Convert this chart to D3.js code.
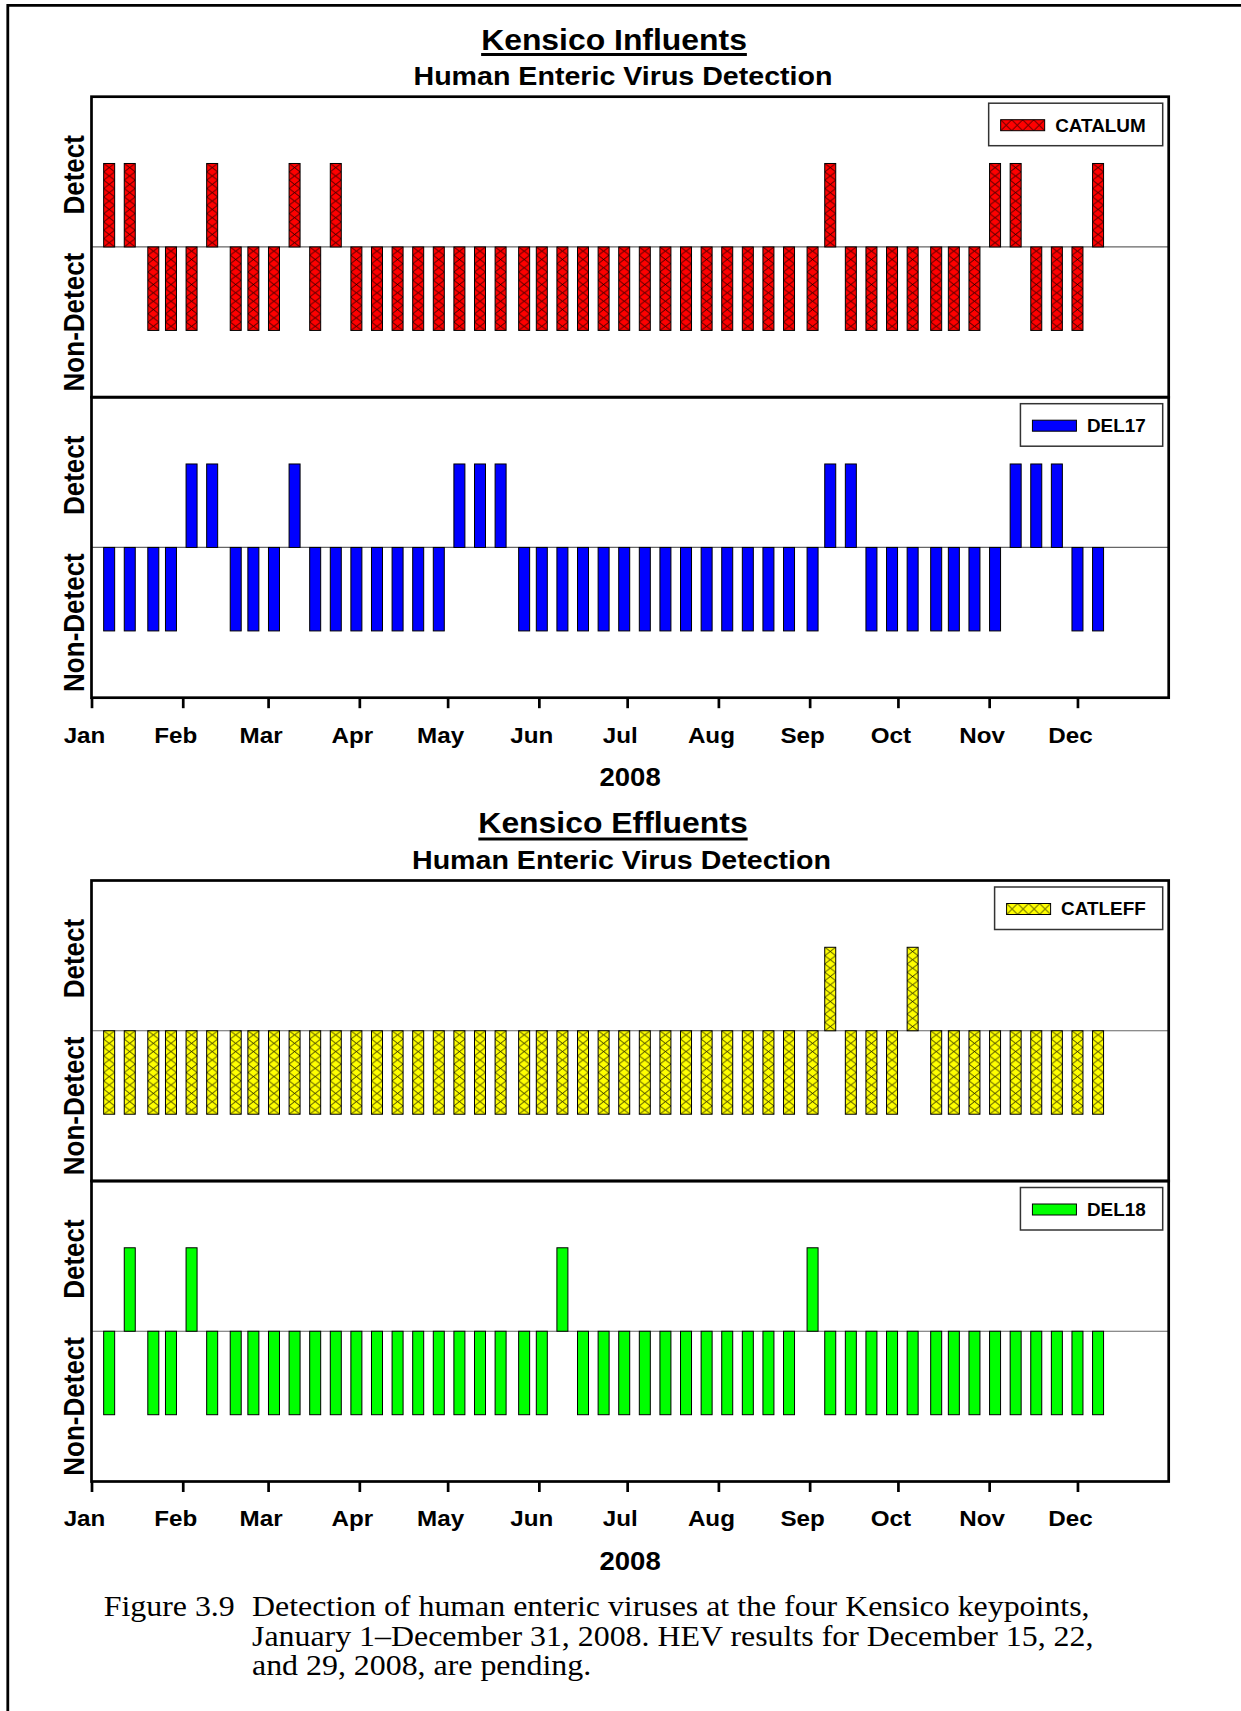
<!DOCTYPE html>
<html>
<head>
<meta charset="utf-8">
<script src="https://cdn.jsdelivr.net/npm/d3@7"></script>
<style>
  body { margin: 0; background: #fff; }
  svg { display: block; }
</style>
</head>
<body>
<script>
// Weekly sampling dates, 2008
const sampleDates = [
  "2008-01-07","2008-01-14","2008-01-22","2008-01-28",
  "2008-02-04","2008-02-11","2008-02-19","2008-02-25",
  "2008-03-03","2008-03-10","2008-03-17","2008-03-24","2008-03-31",
  "2008-04-07","2008-04-14","2008-04-21","2008-04-28",
  "2008-05-05","2008-05-12","2008-05-19","2008-05-27",
  "2008-06-02","2008-06-09","2008-06-16","2008-06-23","2008-06-30",
  "2008-07-07","2008-07-14","2008-07-21","2008-07-28",
  "2008-08-04","2008-08-11","2008-08-18","2008-08-25",
  "2008-09-02","2008-09-08","2008-09-15","2008-09-22","2008-09-29",
  "2008-10-06","2008-10-14","2008-10-20","2008-10-27",
  "2008-11-03","2008-11-10","2008-11-17","2008-11-24",
  "2008-12-01","2008-12-08"
];

// 1 = Detect, -1 = Non-Detect
const catalum = [
   1, 1,-1,-1,-1, 1,-1,-1,-1, 1,-1, 1,-1,
  -1,-1,-1,-1,-1,-1,-1,-1,-1,-1,-1,-1,
  -1,-1,-1,-1,-1,-1,-1,-1,-1,
  -1, 1,-1,-1,-1,-1,-1,-1,-1,
   1, 1,-1,-1,-1, 1
];
const del17 = [
  -1,-1,-1,-1, 1, 1,-1,-1,-1, 1,-1,-1,-1,
  -1,-1,-1,-1, 1, 1, 1,-1,-1,-1,-1,-1,
  -1,-1,-1,-1,-1,-1,-1,-1,-1,
  -1, 1, 1,-1,-1,-1,-1,-1,-1,
  -1, 1, 1, 1,-1,-1
];
const catleff = [
  -1,-1,-1,-1,-1,-1,-1,-1,-1,-1,-1,-1,-1,
  -1,-1,-1,-1,-1,-1,-1,-1,-1,-1,-1,-1,
  -1,-1,-1,-1,-1,-1,-1,-1,-1,
  -1, 1,-1,-1,-1, 1,-1,-1,-1,
  -1,-1,-1,-1,-1,-1
];
const del18 = [
  -1, 1,-1,-1, 1,-1,-1,-1,-1,-1,-1,-1,-1,
  -1,-1,-1,-1,-1,-1,-1,-1,-1, 1,-1,-1,
  -1,-1,-1,-1,-1,-1,-1,-1,-1,
   1,-1,-1,-1,-1,-1,-1,-1,-1,
  -1,-1,-1,-1,-1,-1
];

const seriesNames = ["CATALUM", "DEL17", "CATLEFF", "DEL18"];
const monthLabels = ["Jan","Feb","Mar","Apr","May","Jun","Jul","Aug","Sep","Oct","Nov","Dec"];
const chartTitles = ["Kensico Influents", "Kensico Effluents"];
const chartSubtitle = "Human Enteric Virus Detection";
const yearLabel = "2008";
const yLabels = ["Detect", "Non-Detect"];
const captionLead = "Figure 3.9";
const captionLines = [
  "Detection of human enteric viruses at the four Kensico keypoints,",
  "January 1\u2013December 31, 2008. HEV results for December 15, 22,",
  "and 29, 2008, are pending."
];

// ---------- drawing ----------
const W = 1241, H = 1711;
const SANS = "'Liberation Sans', Arial, Helvetica, sans-serif";
const SERIF = "'Liberation Serif', 'Times New Roman', Times, serif";
const SX = 1.1;                 // horizontal widening of lettering
const plotLeft = 91.5, plotRight = 1168.7;
const panelH = 300.5;
const barW = 11;

const parse = d3.timeParse("%Y-%m-%d");
const dates = sampleDates.map(parse);
const seriesValues = [catalum, del17, catleff, del18];

const styles = [
  { fill: "#ff0000", hatch: true },
  { fill: "#0000ff", hatch: false },
  { fill: "#ffff00", hatch: true },
  { fill: "#00ff00", hatch: false }
];

const charts = [
  { top: 96.7, titleX: 614, titleBase: 50, ulY: 54.5, subX: 623, subBase: 85, series: [0, 1] },
  { top: 880.5, titleX: 613, titleBase: 833.3, ulY: 839, subX: 621.5, subBase: 869.3, series: [2, 3] }
];

const svg = d3.select("body").append("svg")
  .attr("width", W).attr("height", H)
  .attr("viewBox", `0 0 ${W} ${H}`);

// hatch patterns
const defs = svg.append("defs");
function hatchPattern(id, color, wFrac, hFrac, tw, th) {
  const p = defs.append("pattern")
    .attr("id", id)
    .attr("patternUnits", "objectBoundingBox")
    .attr("width", wFrac).attr("height", hFrac);
  p.append("rect").attr("width", tw).attr("height", th).attr("fill", color);
  p.append("path")
    .attr("d", `M0,0L${tw},${th}M${tw},0L0,${th}`)
    .attr("stroke", "#000").attr("stroke-width", 0.8).attr("fill", "none");
}

function stext(parent, str, x, y, o) {
  return parent.append("text")
    .attr("transform", `translate(${x},${y}) scale(${o.sx || 1},1)` + (o.rot ? ` rotate(${o.rot})` : ""))
    .attr("text-anchor", o.anchor || "start")
    .attr("font-family", o.family || SANS)
    .attr("font-weight", o.weight || "bold")
    .attr("font-size", o.size)
    .attr("fill", "#000")
    .text(str);
}

// outer figure frame
svg.append("path")
  .attr("d", `M7.8,${H + 5}V5.3H${W + 5}`)
  .attr("fill", "none").attr("stroke", "#000").attr("stroke-width", 2.8);

const x = d3.scaleTime()
  .domain([new Date(2008, 0, 1), new Date(2009, 0, 1)])
  .range([plotLeft, plotRight]);
const monthStarts = d3.timeMonths(new Date(2008, 0, 1), new Date(2009, 0, 1));

charts.forEach((c, ci) => {
  // titles
  const t = stext(svg, chartTitles[ci], c.titleX, c.titleBase, { size: 29, anchor: "middle", sx: SX });
  const tw = t.node().getComputedTextLength() * SX;
  svg.append("line")
    .attr("x1", c.titleX - tw / 2).attr("x2", c.titleX + tw / 2)
    .attr("y1", c.ulY).attr("y2", c.ulY)
    .attr("stroke", "#000").attr("stroke-width", 3);
  stext(svg, chartSubtitle, c.subX, c.subBase, { size: 26, anchor: "middle", sx: SX });

  c.series.forEach((si, pi) => {
    const top = c.top + pi * panelH;
    const bottom = top + panelH;
    const y = d3.scaleLinear().domain([-1.8, 1.8]).range([bottom, top]);
    const st = styles[si];
    const g = svg.append("g");

    let fill = st.fill;
    if (st.hatch) {
      const barH = Math.abs(y(1) - y(0));
      hatchPattern(`hatch${si}`, st.fill, 1, 1 / 10, barW, barH / 10);
      hatchPattern(`hatchL${si}`, st.fill, 0.25, 1, 11, 11);
      fill = `url(#hatch${si})`;
    }

    // zero line
    g.append("line")
      .attr("x1", plotLeft).attr("x2", plotRight)
      .attr("y1", y(0)).attr("y2", y(0))
      .attr("stroke", "#666").attr("stroke-width", 1.2);

    // bars
    g.selectAll("rect.bar")
      .data(seriesValues[si].map((v, i) => ({ date: dates[i], v })))
      .join("rect")
      .attr("class", "bar")
      .attr("x", d => x(d.date) - barW / 2)
      .attr("width", barW)
      .attr("y", d => Math.min(y(d.v), y(0)))
      .attr("height", d => Math.abs(y(d.v) - y(0)))
      .attr("fill", fill)
      .attr("stroke", "#000").attr("stroke-width", 1);

    // panel frame
    g.append("rect")
      .attr("x", plotLeft).attr("y", top)
      .attr("width", plotRight - plotLeft).attr("height", panelH)
      .attr("fill", "none").attr("stroke", "#000").attr("stroke-width", 2.7);

    // y category labels
    stext(g, yLabels[0], 84, (top + y(0)) / 2 + 3, { size: 26, anchor: "middle", sx: SX, rot: -90 });
    stext(g, yLabels[1], 84, (y(0) + bottom) / 2, { size: 26, anchor: "middle", sx: SX, rot: -90 });

    // legend
    const lg = g.append("g");
    const boxTop = top + 6.5, boxH = 42.5, boxRight = plotRight - 6;
    const lt = stext(lg, seriesNames[si], 0, boxTop + 28.3, { size: 18, sx: 1.05 });
    const ltw = lt.node().getComputedTextLength() * 1.05;
    const boxLeft = boxRight - (12 + 44 + 10.5 + ltw + 17);
    lt.attr("transform", `translate(${boxLeft + 12 + 44 + 10.5},${boxTop + 28.3}) scale(1.05,1)`);
    lg.insert("rect", "text")
      .attr("x", boxLeft).attr("y", boxTop)
      .attr("width", boxRight - boxLeft).attr("height", boxH)
      .attr("fill", "#fff").attr("stroke", "#333").attr("stroke-width", 1.5);
    lg.insert("rect", "text")
      .attr("x", boxLeft + 12).attr("y", boxTop + 16.5)
      .attr("width", 44).attr("height", 11)
      .attr("fill", st.hatch ? `url(#hatchL${si})` : st.fill)
      .attr("stroke", "#000").attr("stroke-width", 1);
  });

  // x axis under the lower panel
  const axisY = c.top + 2 * panelH;
  const ax = svg.append("g")
    .attr("transform", `translate(0,${axisY})`)
    .call(d3.axisBottom(x)
      .tickValues(monthStarts)
      .tickFormat((d, i) => monthLabels[i])
      .tickSize(10.5)
      .tickSizeOuter(0));
  ax.select(".domain").remove();
  ax.attr("font-family", SANS).attr("font-size", 22).attr("font-weight", "bold");
  ax.selectAll(".tick line").attr("stroke", "#000").attr("stroke-width", 2.7);
  ax.selectAll(".tick text")
    .attr("fill", "#000")
    .attr("y", 45).attr("dy", null)
    .attr("x", -7.5 / SX)
    .attr("transform", `scale(${SX},1)`);

  stext(svg, yearLabel, (plotLeft + plotRight) / 2, axisY + 88, { size: 25, anchor: "middle", sx: SX });
});

// caption
const capBase = [1616, 1645.5, 1675];
stext(svg, captionLead, 103.7, capBase[0], { size: 29, weight: "normal", family: SERIF, sx: SX });
captionLines.forEach((s, i) => {
  stext(svg, s, 252, capBase[i], { size: 29, weight: "normal", family: SERIF, sx: SX });
});
</script>
</body>
</html>
